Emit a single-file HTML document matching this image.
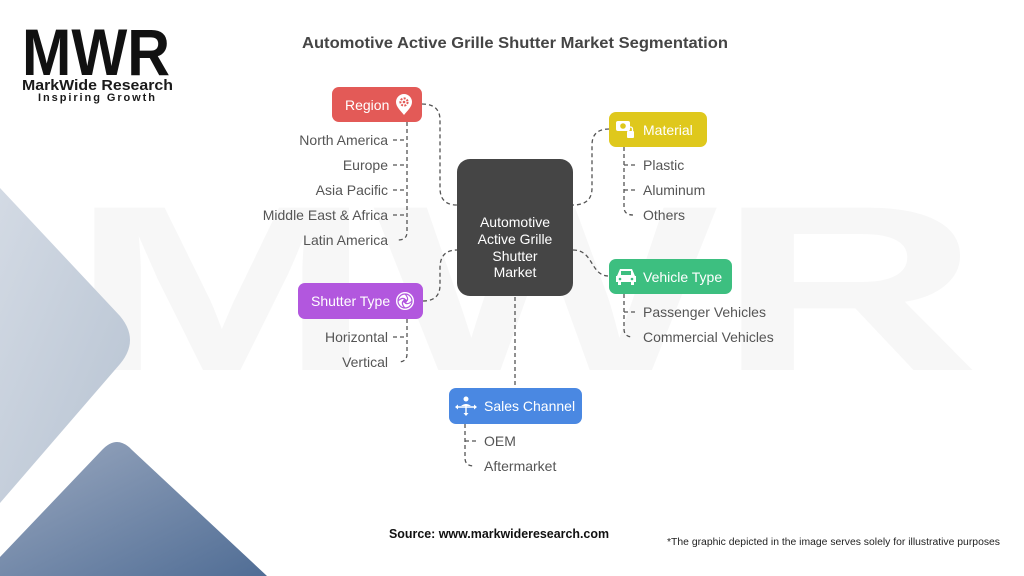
<!DOCTYPE html>
<html><head><meta charset="utf-8"><style>
html,body{margin:0;padding:0;background:#fff;}
body{width:1024px;height:576px;overflow:hidden;position:relative;font-family:"Liberation Sans",sans-serif;}
svg{position:absolute;left:0;top:0;}
</style></head><body>
<svg width="1024" height="576" viewBox="0 0 1024 576" xmlns="http://www.w3.org/2000/svg">
<defs>
<linearGradient id="gl" x1="0" y1="0" x2="1" y2="1">
<stop offset="0" stop-color="#d3dae4"/><stop offset="1" stop-color="#b7c3d2"/>
</linearGradient>
<linearGradient id="gd" x1="0" y1="0" x2="1" y2="1">
<stop offset="0" stop-color="#9aa8bf"/><stop offset="1" stop-color="#506d95"/>
</linearGradient>
</defs>
<!-- watermark -->
<text x="70" y="370" font-size="236" font-weight="bold" fill="#f7f7f7" textLength="910" lengthAdjust="spacingAndGlyphs" font-family="Liberation Sans, sans-serif">MWR</text>
<!-- background shapes -->
<path d="M0,188 L120,316 Q140,340 120,364 L0,503 Z" fill="url(#gl)"/>
<path d="M0,557 L102,450 Q117,434 132,450 L267,576 L0,576 Z" fill="url(#gd)"/>

<!-- logo -->
<text x="22" y="75" font-size="66" font-weight="bold" fill="#111" textLength="148" lengthAdjust="spacingAndGlyphs">MWR</text>
<text x="22" y="90" font-size="15" font-weight="bold" fill="#1a1a1a" textLength="151" lengthAdjust="spacingAndGlyphs">MarkWide Research</text>
<text x="38" y="101" font-size="11" font-weight="bold" fill="#1a1a1a" textLength="117" lengthAdjust="spacing">Inspiring Growth</text>

<!-- title -->
<text x="302" y="48" font-size="16" font-weight="bold" fill="#454545" textLength="426" lengthAdjust="spacingAndGlyphs">Automotive Active Grille Shutter Market Segmentation</text>

<!-- connectors -->
<g fill="none" stroke="#555" stroke-width="1.3" stroke-dasharray="4 3">
<path d="M422,104 Q440,104 440,120 L440,188 Q440,205 457,205"/>
<path d="M609,129 Q592,129 592,145 L592,188 Q592,205 573,205"/>
<path d="M423,301 Q440,301 440,285 L440,268 Q440,250 457,250"/>
<path d="M573,250 C594,250 590,276 609,276"/>
<path d="M515,297 L515,388"/>
<!-- region children -->
<path d="M407,122 L407,232 Q407,240 398,240"/>
<path d="M393,140 L407,140 M393,165 L407,165 M393,190 L407,190 M393,215 L407,215"/>
<!-- material children -->
<path d="M624,147 L624,207 Q624,215 633,215"/>
<path d="M624,165 L638,165 M624,190 L638,190"/>
<!-- vehicle children -->
<path d="M624,294 L624,329 Q624,337 633,337"/>
<path d="M624,312 L638,312"/>
<!-- shutter children -->
<path d="M407,319 L407,354 Q407,362 398,362"/>
<path d="M393,337 L407,337"/>
<!-- sales children -->
<path d="M465,424 L465,458 Q465,466 474,466"/>
<path d="M465,441 L479,441"/>
</g>

<!-- center -->
<rect x="457" y="159" width="116" height="137" rx="13" fill="#454545"/>
<g fill="#fff" font-size="14" text-anchor="middle">
<text x="515" y="227">Automotive</text>
<text x="515" y="244">Active Grille</text>
<text x="515" y="261">Shutter</text>
<text x="515" y="277">Market</text>
</g>

<!-- Region -->
<rect x="332" y="87" width="90" height="35" rx="7" fill="#e35a57"/>
<text x="345" y="110" font-size="14" fill="#fff">Region</text>
<path d="M404,94 a8,8 0 0 1 8,8 c0,5 -5,9 -8,13 c-3,-4 -8,-8 -8,-13 a8,8 0 0 1 8,-8z" fill="#fff"/>
<circle cx="404" cy="102" r="3.6" fill="none" stroke="#e35a57" stroke-width="2" stroke-dasharray="2 1.3"/>
<circle cx="404" cy="102" r="1.3" fill="#e35a57"/>

<!-- Material -->
<rect x="609" y="112" width="98" height="35" rx="7" fill="#dfc81c"/>
<rect x="616" y="121" width="14" height="10" rx="2" fill="#fff"/>
<circle cx="623" cy="126" r="2.8" fill="#dfc81c"/>
<rect x="627" y="131" width="7" height="7" rx="1" fill="#fff"/>
<path d="M628.5,131 v-2 a2,2 0 0 1 4,0 v2" fill="none" stroke="#fff" stroke-width="1.3"/>
<text x="643" y="135" font-size="14" fill="#fff">Material</text>

<!-- Vehicle Type -->
<rect x="609" y="259" width="123" height="35" rx="7" fill="#3dbf80"/>
<path d="M617,276 l3,-7 h12 l3,7 h1 v6 h-2 v3 h-3 v-3 h-10 v3 h-3 v-3 h-2 v-6z" fill="#fff"/>
<rect x="621" y="271" width="10" height="4" fill="#3dbf80"/>
<circle cx="620" cy="279" r="1.3" fill="#3dbf80"/><circle cx="632" cy="279" r="1.3" fill="#3dbf80"/>
<text x="643" y="282" font-size="14" fill="#fff">Vehicle Type</text>

<!-- Shutter Type -->
<rect x="298" y="283" width="125" height="36" rx="7" fill="#b257de"/>
<text x="311" y="306" font-size="14" fill="#fff">Shutter Type</text>
<circle cx="405" cy="301" r="9" fill="#fff"/>
<circle cx="405" cy="301" r="7" fill="none" stroke="#b257de" stroke-width="1.2"/>
<g stroke="#b257de" stroke-width="1.2" fill="none">
<path d="M405,294 q4,4 2,7"/><path d="M412,301 q-4,4 -7,2"/><path d="M405,308 q-4,-4 -2,-7"/><path d="M398,301 q4,-4 7,-2"/>
</g>
<circle cx="405" cy="301" r="2" fill="#b257de"/>

<!-- Sales Channel -->
<rect x="449" y="388" width="133" height="36" rx="7" fill="#4a88e2"/>
<circle cx="466" cy="399" r="2.5" fill="#fff"/>
<path d="M461,406 q5,-4 10,0 z" fill="#fff"/>
<path d="M456,407 h20 M466,404 v11" stroke="#fff" stroke-width="1.4"/>
<path d="M455,407 l3,-2.5 v5z M477,407 l-3,-2.5 v5z M466,416 l-2.5,-3 h5z" fill="#fff"/>
<text x="484" y="411" font-size="14" fill="#fff">Sales Channel</text>

<!-- labels -->
<g font-size="14" fill="#555" text-anchor="end">
<text x="388" y="145">North America</text>
<text x="388" y="170">Europe</text>
<text x="388" y="195">Asia Pacific</text>
<text x="388" y="220">Middle East &amp; Africa</text>
<text x="388" y="245">Latin America</text>
<text x="388" y="342">Horizontal</text>
<text x="388" y="367">Vertical</text>
</g>
<g font-size="14" fill="#555">
<text x="643" y="170">Plastic</text>
<text x="643" y="195">Aluminum</text>
<text x="643" y="220">Others</text>
<text x="643" y="317">Passenger Vehicles</text>
<text x="643" y="342">Commercial Vehicles</text>
<text x="484" y="446">OEM</text>
<text x="484" y="471">Aftermarket</text>
</g>

<!-- footer -->
<text x="389" y="538" font-size="12.5" font-weight="bold" fill="#111" textLength="220" lengthAdjust="spacingAndGlyphs">Source: www.markwideresearch.com</text>
<text x="667" y="545" font-size="10" fill="#222" textLength="333" lengthAdjust="spacingAndGlyphs">*The graphic depicted in the image serves solely for illustrative purposes</text>
</svg>
</body></html>
